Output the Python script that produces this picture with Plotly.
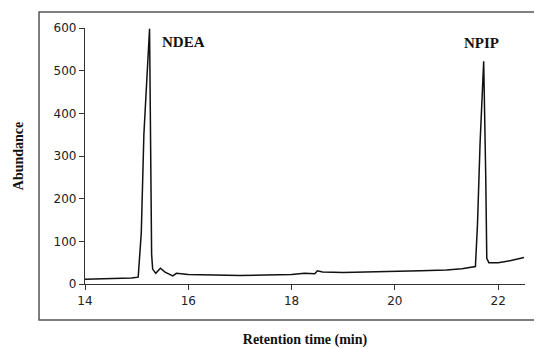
import plotly.graph_objects as go

# Retention time (min) and abundance
time_min = [14.0, 14.5, 14.9, 15.03, 15.09, 15.14, 15.19, 15.25, 15.29, 15.31,
            15.37, 15.46, 15.55, 15.70, 15.77, 16.0, 16.5, 17.0, 17.5, 18.0,
            18.25, 18.45, 18.5, 18.6, 19.0, 19.5, 20.0, 20.5, 21.0, 21.3,
            21.56, 21.6, 21.65, 21.72, 21.76, 21.78, 21.82, 22.0, 22.25, 22.5]
abundance = [11, 12, 14, 16, 120, 350, 470, 598, 70, 35,
             25, 37, 28, 19, 25, 22, 21, 20, 21, 22,
             25, 24, 31, 28, 27, 28, 29, 31, 33, 36,
             41, 140, 330, 522, 250, 60, 50, 50, 55, 62]

peak_labels = ["NDEA", "NPIP"]
peak_times = [15.25, 21.72]

x_ticks = [14, 16, 18, 20, 22]
y_ticks = [0, 100, 200, 300, 400, 500, 600]

fig = go.Figure()
fig.add_trace(go.Scatter(x=time_min, y=abundance, mode="lines",
                         line=dict(color="#111111", width=1.5), showlegend=False))

label_pos = [(0.223, 0.945), (0.9, 0.94)]
for lab, (px, py) in zip(peak_labels, label_pos):
    fig.add_annotation(text="<b>%s</b>" % lab, x=px, y=py, xref="paper", yref="paper",
                       xanchor="center", yanchor="middle",
                       showarrow=False, font=dict(family="Liberation Serif", size=15, color="#111111"))

fig.add_shape(type="rect", xref="paper", yref="paper", x0=-0.1045, x1=1.08, y0=-0.1406, y1=1.0625,
              line=dict(color="#555555", width=1.5), fillcolor="rgba(0,0,0,0)")

fig.update_layout(
    width=542, height=348,
    margin=dict(l=77, r=25, t=20, b=72),
    paper_bgcolor="white", plot_bgcolor="white",
    font=dict(family="DejaVu Sans", size=12, color="#222222"),
    xaxis=dict(range=[14, 22.52], tickvals=x_ticks, showgrid=False, zeroline=False,
               showline=True, linecolor="#333333", linewidth=1.2, automargin=False,
               ticks="outside", ticklen=5, tickcolor="#333333",
               title=dict(text="<b>Retention time (min)</b>", standoff=27,
                          font=dict(family="Liberation Serif", size=14, color="#111111"))),
    yaxis=dict(range=[0, 600], tickvals=y_ticks, showgrid=False, zeroline=False,
               showline=True, linecolor="#333333", linewidth=1.2, automargin=False,
               ticks="outside", ticklen=5, tickcolor="#333333",
               title=dict(text="<b>Abundance</b>", standoff=26,
                          font=dict(family="Liberation Serif", size=14, color="#111111"))),
)

fig.write_html("out.html")
